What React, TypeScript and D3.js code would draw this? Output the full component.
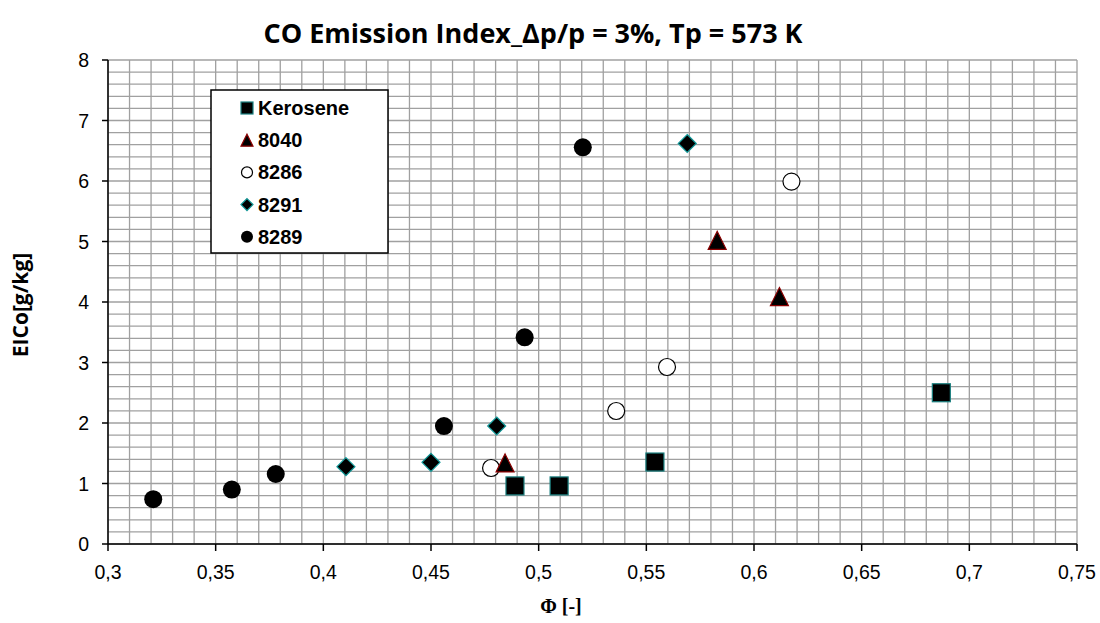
import React from "react";
import * as d3 from "d3";

const keroseneX = [0.489, 0.5095, 0.554, 0.687];
const keroseneY = [0.96, 0.96, 1.355, 2.5];
const s8040X = [0.4844, 0.5829, 0.6118];
const s8040Y = [1.34, 5.02, 4.09];
const s8286X = [0.4779, 0.536, 0.5596, 0.6174];
const s8286Y = [1.256, 2.198, 2.926, 5.99];
const s8291X = [0.4105, 0.45, 0.4805, 0.569];
const s8291Y = [1.278, 1.35, 1.95, 6.62];
const s8289X = [0.321, 0.3575, 0.3779, 0.456, 0.4935, 0.5205];
const s8289Y = [0.74, 0.9, 1.157, 1.95, 3.416, 6.557];

const xTicks = [0.3, 0.35, 0.4, 0.45, 0.5, 0.55, 0.6, 0.65, 0.7, 0.75];
const yTicks = [0, 1, 2, 3, 4, 5, 6, 7, 8];
const legendNames = ["Kerosene", "8040", "8286", "8291", "8289"];

const W = 1100, H = 623;
const X0 = 108, X1 = 1077, Y0 = 544, Y1 = 60;

type Shape = "square" | "triangle" | "open" | "diamond" | "circle";

function Marker({ shape, cx, cy, s }: { shape: Shape; cx: number; cy: number; s: number }) {
  const h = s / 2;
  if (shape === "square")
    return <rect x={cx - h} y={cy - h} width={s} height={s} fill="#000" stroke="#1a8080" strokeWidth={1.2} />;
  if (shape === "triangle")
    return <path d={`M${cx},${cy - h}L${cx + h},${cy + h}L${cx - h},${cy + h}Z`} fill="#000" stroke="#8b0000" strokeWidth={1.2} />;
  if (shape === "diamond")
    return <path d={`M${cx},${cy - h}L${cx + h},${cy}L${cx},${cy + h}L${cx - h},${cy}Z`} fill="#000" stroke="#129a9a" strokeWidth={1.2} />;
  if (shape === "open")
    return <circle cx={cx} cy={cy} r={h - 0.5} fill="#fff" stroke="#000" strokeWidth={1.2} />;
  return <circle cx={cx} cy={cy} r={h} fill="#000" />;
}

export default function App() {
  const x = d3.scaleLinear().domain([0.3, 0.75]).range([X0, X1]);
  const y = d3.scaleLinear().domain([0, 8]).range([Y0, Y1]);
  const vGrid = d3.range(0, 46).map((i) => 0.3 + i * 0.01);
  const hGrid = d3.range(0, 41).map((i) => i * 0.2);
  const fmt = (v: number) => d3.format(".2~f")(v).replace(".", ",");

  const series: { xs: number[]; ys: number[]; shape: Shape }[] = [
    { xs: s8289X, ys: s8289Y, shape: "circle" },
    { xs: s8291X, ys: s8291Y, shape: "diamond" },
    { xs: s8286X, ys: s8286Y, shape: "open" },
    { xs: keroseneX, ys: keroseneY, shape: "square" },
    { xs: s8040X, ys: s8040Y, shape: "triangle" },
  ];
  const legendShapes: Shape[] = ["square", "triangle", "open", "diamond", "circle"];

  return (
    <svg width={W} height={H} style={{ position: "absolute", left: 0, top: 0, background: "#fff" }}>
      <rect x={0} y={0} width={W} height={H} fill="#fff" />
      {hGrid.map((v, i) => (
        <line key={"h" + i} x1={X0} x2={X1} y1={y(v)} y2={y(v)} stroke="#a0a0a0" strokeWidth={1.3} />
      ))}
      {vGrid.map((v, i) => (
        <line key={"v" + i} x1={x(v)} x2={x(v)} y1={Y1} y2={Y0} stroke="#a0a0a0" strokeWidth={1.3} />
      ))}
      <line x1={X0} x2={X0} y1={Y1} y2={Y0} stroke="#000" strokeWidth={1.5} />
      <line x1={X0} x2={X1} y1={Y0} y2={Y0} stroke="#000" strokeWidth={1.5} />
      {xTicks.map((v, i) => (
        <g key={"xt" + i}>
          <line x1={x(v)} x2={x(v)} y1={Y0} y2={Y0 + 7} stroke="#000" strokeWidth={1.5} />
          <text x={x(v)} y={579} textAnchor="middle" fontFamily="Liberation Sans, Arial" fontSize={19.5}>{fmt(v)}</text>
        </g>
      ))}
      {yTicks.map((v, i) => (
        <g key={"yt" + i}>
          <line x1={X0 - 6} x2={X0} y1={y(v)} y2={y(v)} stroke="#000" strokeWidth={1.5} />
          <text x={89} y={y(v) + 7} textAnchor="end" fontFamily="Liberation Sans, Arial" fontSize={19.5}>{v}</text>
        </g>
      ))}
      {series.map((s, si) =>
        s.xs.map((xv, i) => <Marker key={si + "-" + i} shape={s.shape} cx={x(xv)} cy={y(s.ys[i])} s={18} />)
      )}
      <rect x={211} y={90} width={177} height={163} fill="#fff" stroke="#000" strokeWidth={1.5} />
      {legendNames.map((n, i) => (
        <g key={"lg" + i}>
          <Marker shape={legendShapes[i]} cx={247} cy={108 + i * 32.2} s={12} />
          <text x={258} y={108 + i * 32.2 + 7} fontFamily="Liberation Sans, Arial" fontWeight="bold" fontSize={20}>{n}</text>
        </g>
      ))}
      <text x={533} y={43} textAnchor="middle" fontFamily="Open Sans" fontWeight="bold" fontSize={27}>
        CO Emission Index_Δp/p = 3%, Tp = 573 K
      </text>
      <text transform={`translate(28,305) rotate(-90)`} textAnchor="middle" fontFamily="Open Sans" fontWeight="bold" fontSize={21}>
        EICo[g/kg]
      </text>
      <text x={561} y={613} textAnchor="middle" fontFamily="Liberation Serif, Times New Roman" fontWeight="bold" fontSize={20}>
        Φ [-]
      </text>
    </svg>
  );
}
